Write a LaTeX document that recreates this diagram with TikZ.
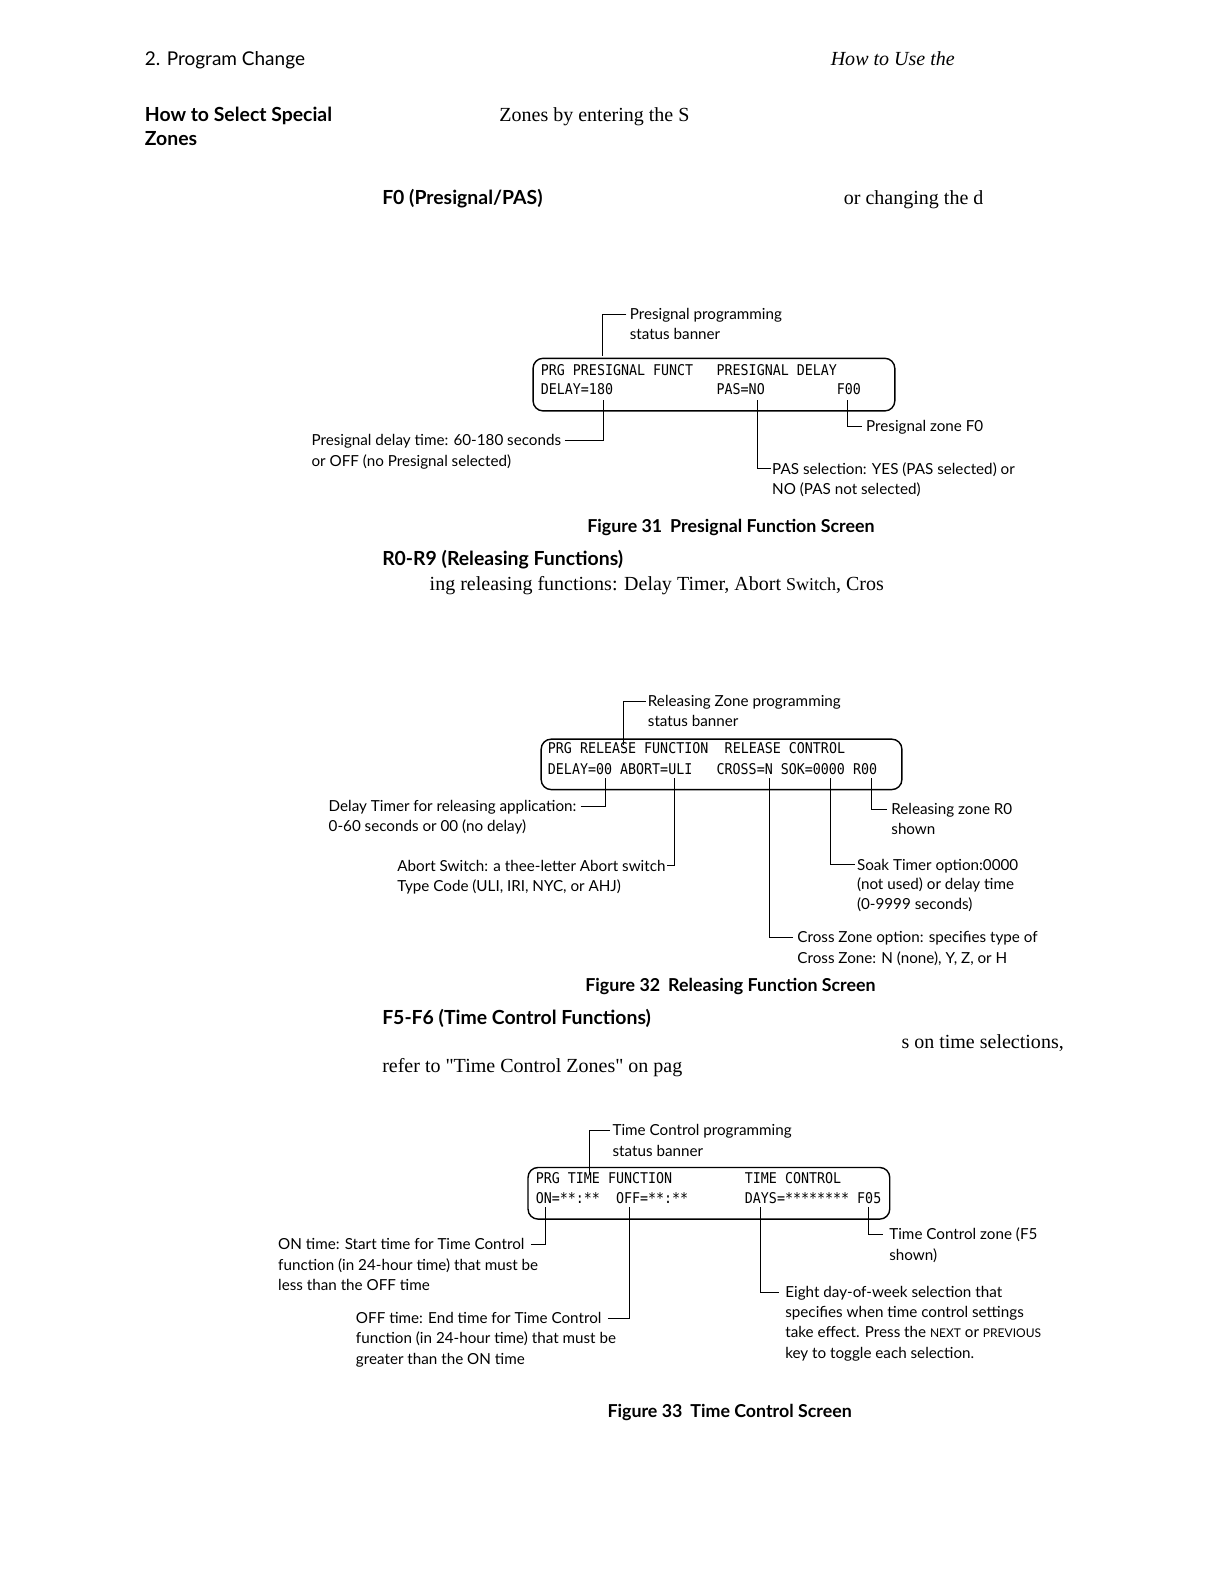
\documentclass[tikz,border=0pt]{standalone}
\usepackage{fontspec}
\setmainfont{Liberation Serif}
\newfontfamily\rawserif{Liberation Serif}[Ligatures=TeXOff]
\newfontfamily\cf{Lato}
\newfontfamily\monof[FakeStretch=0.9]{DejaVu Sans Mono}
\begin{document}
\begin{tikzpicture}[x=0.50495pt,y=-0.50495pt,
  body/.style={anchor=west,inner sep=0pt,font=\fontsize{10}{12}\selectfont,text height=7pt,text depth=0pt},
  head/.style={anchor=west,inner sep=0pt,font=\cf\bfseries\fontsize{9.7}{12}\selectfont,text height=7pt,text depth=0pt},
  hdr/.style={anchor=west,inner sep=0pt,font=\cf\fontsize{9.5}{12}\selectfont,text height=7pt,text depth=0pt},
  lcd/.style={anchor=west,inner sep=0pt,font=\monof\fontsize{7.4}{9}\selectfont,text height=5.4pt,text depth=0pt},
  co/.style={anchor=west,inner sep=0pt,font=\cf\fontsize{7.6}{10}\selectfont,text height=6pt,text depth=0.6pt},
  figcap/.style={anchor=west,inner sep=0pt,font=\cf\bfseries\fontsize{8.9}{11}\selectfont,text height=6.5pt,text depth=0pt},
  lead/.style={line width=0.5pt},
  screen/.style={draw,line width=0.7pt,rounded corners=5pt,anchor=north west,inner sep=0pt}]
\useasboundingbox (0,0) rectangle (1212,1568);

% page header and body text
\node[hdr] (hA) at (143,58) {2. Program Change};
\node[body,font=\itshape\fontsize{10}{12}\selectfont] (hB) at (822,58) {How to Use the};
\node[head] (hC) at (143,113) {How to Select Special};
\node[head] (hD) at (143,137) {Zones};
\node[body] (bA) at (494,113) {Zones by entering the S};
\node[head] (hE) at (378,196) {F0 (Presignal/PAS)};
\node[body] (bB) at (835,196) {or changing the d};

% ---------- Figure 31 ----------
\node[screen,minimum width=180.8pt,minimum height=26.3pt] (s31) at (527,354) {};
\node[lcd] (m31a) at (535,366) {PRG PRESIGNAL FUNCT};
\node[lcd] (m31b) at (709,366) {PRESIGNAL DELAY};
\node[lcd] (m31c) at (535,385) {DELAY=180};
\node[lcd] (m31d) at (709,385) {PAS=NO};
\node[lcd] (m31e) at (828,385) {F00};

\node[co] (t31a) at (623,311) {Presignal programming};
\node[co] (t31b) at (623,331) {status banner};
\coordinate (b31) at (596,352);
\draw[lead] ([xshift=-1.5pt]t31a.west) -| (b31);

\node[co] (l31a) at (308,436) {Presignal delay time: 60-180 seconds};
\node[co] (l31b) at (308,456) {or OFF (no Presignal selected)};
\coordinate (a31) at (597,396);
\draw[lead] ([xshift=1.5pt]l31a.east) -| (a31);

\node[co] (l31c) at (764,464) {PAS selection: YES (PAS selected) or};
\node[co] (l31d) at (764,484) {NO (PAS not selected)};
\coordinate (c31) at (750,396);
\draw[lead] ([xshift=-0.5pt]l31c.west) -| (c31);

\node[co] (l31e) at (857,422) {Presignal zone F0};
\coordinate (d31) at (839,396);
\draw[lead] ([xshift=-2pt]l31e.west) -| (d31);

\node[figcap] (f31) at (581,521) {Figure 31\hspace{0.45em}Presignal Function Screen};

% ---------- Releasing ----------
\node[head] (hF) at (378,553) {R0-R9 (Releasing Functions)};
\node[body] (bC) at (425,578) {ing releasing functions: Delay Timer, Abort {\fontsize{9}{12}\selectfont Switch}, Cros};

% ---------- Figure 32 ----------
\node[screen,minimum width=180.3pt,minimum height=25.2pt] (s32) at (535,731) {};
\node[lcd] (m32a) at (542,741) {PRG RELEASE FUNCTION};
\node[lcd] (m32b) at (717,741) {RELEASE CONTROL};
\node[lcd] (m32c) at (542,761) {DELAY=00 ABORT=ULI};
\node[lcd] (m32d) at (709,761) {CROSS=N SOK=0000 R00};

\node[co] (t32a) at (641,694) {Releasing Zone programming};
\node[co] (t32b) at (641,714) {status banner};
\coordinate (b32) at (617,737);
\draw[lead] ([xshift=-1pt]t32a.west) -| (b32);

\node[co] (l32a) at (325,798) {Delay Timer for releasing application:};
\node[co] (l32b) at (325,818) {0-60 seconds or 00 (no delay)};
\coordinate (a32) at (599,770);
\draw[lead] ([xshift=2pt]l32a.east) -| (a32);

\node[co] (l32c) at (393,857) {Abort Switch: a thee-letter Abort switch};
\node[co] (l32d) at (393,877) {Type Code (ULI, IRI, NYC, or AHJ)};
\coordinate (c32) at (668,770);
\draw[lead] ([xshift=0.5pt]l32c.east) -| (c32);

\node[co] (l32e) at (789,928) {Cross Zone option: specifies type of};
\node[co] (l32f) at (789,948) {Cross Zone: N (none), Y, Z, or H};
\coordinate (d32) at (762,770);
\draw[lead] ([xshift=-2pt]l32e.west) -| (d32);

\node[co] (l32g) at (848,856) {Soak Timer option:0000};
\node[co] (l32h) at (848,875) {(not used) or delay time};
\node[co] (l32i) at (848,895) {(0-9999 seconds)};
\coordinate (e32) at (822,770);
\draw[lead] ([xshift=-1pt]l32g.west) -| (e32);

\node[co] (l32j) at (882,801) {Releasing zone R0};
\node[co] (l32k) at (882,821) {shown};
\coordinate (g32) at (863,770);
\draw[lead] ([xshift=-2pt]l32j.west) -| (g32);

\node[figcap] (f32) at (579,975) {Figure 32\hspace{0.45em}Releasing Function Screen};

% ---------- Time control ----------
\node[head] (hG) at (378,1007) {F5-F6 (Time Control Functions)};
\node[body] (bD) at (892,1031) {s on time selections,};
\node[body,font=\rawserif\fontsize{10}{12}\selectfont] (bE) at (378,1055) {refer to "Time Control Zones" on pag};

% ---------- Figure 33 ----------
\node[screen,minimum width=180.8pt,minimum height=25.8pt] (s33) at (522,1155) {};
\node[lcd] (m33a) at (530,1166) {PRG TIME FUNCTION};
\node[lcd] (m33b) at (737,1166) {TIME CONTROL};
\node[lcd] (m33c) at (530,1186) {ON=**:**\ \ OFF=**:**};
\node[lcd] (m33d) at (737,1186) {DAYS=******** F05};

\node[co] (t33a) at (606,1119) {Time Control programming};
\node[co] (t33b) at (606,1139) {status banner};
\coordinate (b33) at (584,1163);
\draw[lead] ([xshift=-1pt]t33a.west) -| (b33);

\node[co] (l33a) at (275,1232) {ON time: Start time for Time Control};
\node[co] (l33b) at (275,1252) {function (in 24-hour time) that must be};
\node[co] (l33c) at (275,1272) {less than the OFF time};
\coordinate (a33) at (540,1195);
\draw[lead] ([xshift=3pt]l33a.east) -| (a33);

\node[co] (l33d) at (352,1305) {OFF time: End time for Time Control};
\node[co] (l33e) at (352,1325) {function (in 24-hour time) that must be};
\node[co] (l33f) at (352,1345) {greater than the ON time};
\coordinate (c33) at (623,1195);
\draw[lead] ([xshift=3pt]l33d.east) -| (c33);

\node[co] (l33g) at (777,1279) {Eight day-of-week selection that};
\node[co] (l33h) at (777,1299) {specifies when time control settings};
\node[co] (l33i) at (777,1319) {take effect. Press the {\fontsize{6}{8}\selectfont NEXT} or {\fontsize{6}{8}\selectfont PREVIOUS}};
\node[co] (l33j) at (777,1339) {key to toggle each selection.};
\coordinate (d33) at (753,1195);
\draw[lead] ([xshift=-3pt]l33g.west) -| (d33);

\node[co] (l33k) at (880,1222) {Time Control zone (F5};
\node[co] (l33l) at (880,1242) {shown)};
\coordinate (e33) at (860,1195);
\draw[lead] ([xshift=-3pt]l33k.west) -| (e33);

\node[figcap] (f33) at (601,1397) {Figure 33\hspace{0.45em}Time Control Screen};
\end{tikzpicture}
\end{document}
